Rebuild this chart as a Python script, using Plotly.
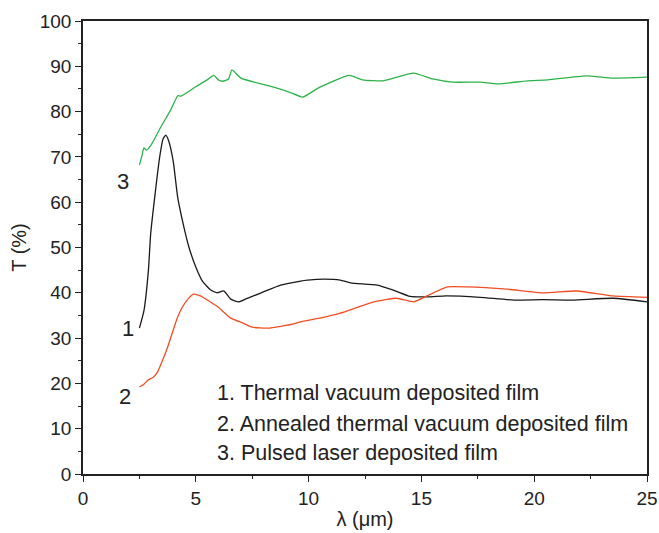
import plotly.graph_objects as go

# Curve 1: Thermal vacuum deposited film
x1 = [2.5, 2.7, 2.9, 3.0, 3.2, 3.4, 3.55, 3.67, 3.8, 4.0, 4.2, 4.45, 4.7, 5.0, 5.3, 5.66, 5.95, 6.24, 6.55, 6.9, 7.2, 7.9,
      8.76, 9.65, 9.95, 10.7, 11.4, 11.86, 13.05, 13.8, 14.5, 15.3, 16.1, 17.6, 19.1, 20.4, 21.7, 23.5, 25.0]
y1 = [32.2, 36.0, 45.0, 53.0, 62.0, 70.0, 74.0, 74.8, 73.5, 69.0, 61.0, 55.0, 50.0, 45.7, 42.5, 40.6, 40.0, 40.4, 38.6, 38.0, 38.6, 40.0,
      41.7, 42.6, 42.8, 43.0, 42.8, 42.2, 41.7, 40.5, 39.2, 39.1, 39.3, 39.0, 38.4, 38.5, 38.4, 38.8, 38.0]

# Curve 2: Annealed thermal vacuum deposited film
x2 = [2.5, 2.7, 2.87, 3.1, 3.3, 3.5, 3.75, 4.0, 4.2, 4.4, 4.65, 4.9, 5.2, 5.97, 6.55, 7.1, 7.5, 8.2, 9.3, 9.65, 10.5, 11.4,
      12.9, 13.9, 14.65, 15.25, 16.15, 17.0, 18.8, 20.4, 21.9, 23.5, 25.0]
y2 = [19.2, 19.8, 20.7, 21.3, 22.5, 24.8, 28.0, 31.8, 34.7, 36.8, 38.6, 39.7, 39.3, 36.9, 34.4, 33.3, 32.4, 32.2, 33.1, 33.6, 34.4, 35.5,
      38.0, 38.8, 38.0, 39.3, 41.3, 41.3, 40.8, 40.0, 40.4, 39.3, 39.0]

# Curve 3: Pulsed laser deposited film
x3 = [2.5, 2.6, 2.7, 2.8, 3.0, 3.45, 3.9, 4.2, 4.34, 5.0, 5.5, 5.8, 6.0, 6.2, 6.45, 6.6, 7.0, 8.45, 9.2, 9.73,
      10.5, 11.8, 12.4, 13.3, 14.65, 15.5, 16.4, 17.6, 18.4, 19.7, 20.6, 22.3, 23.5, 25.0]
y3 = [68.2, 70.0, 72.0, 71.5, 72.5, 76.6, 80.5, 83.5, 83.4, 85.5, 87.0, 88.0, 87.0, 86.7, 87.2, 89.2, 87.4, 85.4, 84.2, 83.2,
      85.4, 88.0, 87.0, 86.8, 88.5, 87.2, 86.5, 86.5, 86.1, 86.8, 87.0, 87.9, 87.4, 87.6]

legend_lines = ["1. Thermal vacuum deposited film",
                "2. Annealed thermal vacuum deposited film",
                "3. Pulsed laser deposited film"]
legend_y = [17.9, 11.0, 4.6]
curve_labels = ["1", "2", "3"]
label_x = [2.0, 1.86, 1.77]
label_y = [32.2, 17.2, 64.5]

FONT = "Liberation Sans, Arial, sans-serif"
fig = go.Figure()
for xs, ys, c in [(x3, y3, "#2db24a"), (x1, y1, "#1a1a1a"), (x2, y2, "#f04e23")]:
    fig.add_trace(go.Scatter(x=xs, y=ys, mode="lines",
                             line=dict(color=c, width=1.3, shape="spline", smoothing=0.5),
                             showlegend=False, hoverinfo="skip"))

for t, lx, ly in zip(curve_labels, label_x, label_y):
    fig.add_annotation(x=lx, y=ly, text=t, showarrow=False, xanchor="center", yanchor="middle",
                       font=dict(family=FONT, size=22, color="#222"))

for t, ly in zip(legend_lines, legend_y):
    fig.add_annotation(x=5.85, y=ly, text=t, showarrow=False, xanchor="left",
                       yanchor="middle", font=dict(family=FONT, size=21.5, color="#222"))

axis_common = dict(showline=True, linecolor="#222", linewidth=1.5, mirror=True, ticks="outside",
                   ticklen=6, tickwidth=1.3, tickcolor="#222", showgrid=False, zeroline=False,
                   automargin=False,
                   tickfont=dict(family=FONT, size=19, color="#222"))
fig.update_xaxes(range=[0, 25], dtick=5, tick0=0,
                 minor=dict(dtick=2.5, ticks="outside", ticklen=3.5, tickcolor="#222", tickwidth=1.3),
                 title=dict(text="λ (μm)", font=dict(family=FONT, size=20, color="#222"), standoff=4),
                 **axis_common)
fig.update_yaxes(range=[0, 100], dtick=10, tick0=0,
                 minor=dict(dtick=5, ticks="outside", ticklen=3.5, tickcolor="#222", tickwidth=1.3),
                 title=dict(text="T (%)", font=dict(family=FONT, size=20, color="#222"), standoff=8),
                 **axis_common)
fig.update_layout(width=659, height=533, margin=dict(l=83, r=12, t=21, b=59, autoexpand=False),
                  plot_bgcolor="white", paper_bgcolor="white")
fig.write_html("out.html", config={"displayModeBar": False},
               post_script="document.body.style.margin='0px';document.body.style.overflow='hidden';")
